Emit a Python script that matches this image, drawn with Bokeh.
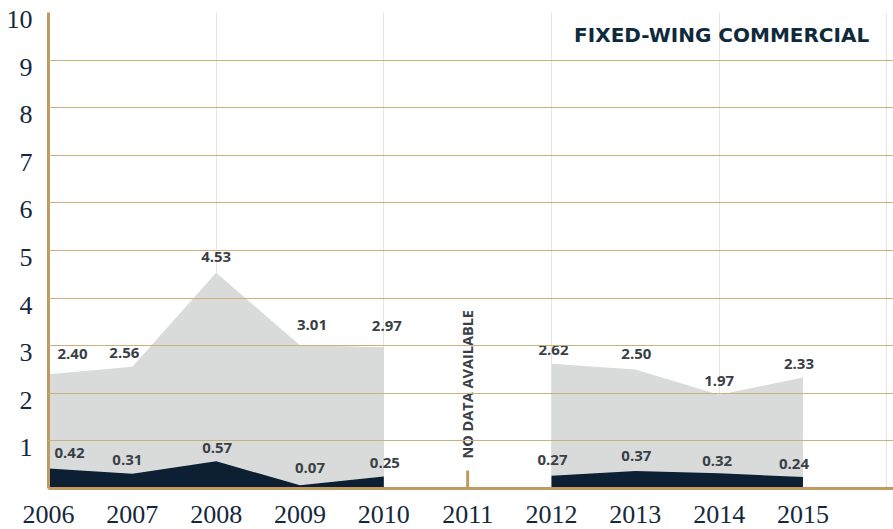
import numpy as np
from bokeh.plotting import figure
from bokeh.models import Range1d, LinearAxis, FixedTicker, Grid, ColumnDataSource, Label
from bokeh.core.properties import value
from bokeh.embed import file_html
from bokeh.resources import INLINE

# ---------------- data ----------------
years = [2006, 2007, 2008, 2009, 2010, 2012, 2013, 2014, 2015]
total_rate = [2.40, 2.56, 4.53, 3.01, 2.97, 2.62, 2.50, 1.97, 2.33]
fatal_rate = [0.42, 0.31, 0.57, 0.07, 0.25, 0.27, 0.37, 0.32, 0.24]
tick_years = [2006, 2007, 2008, 2009, 2010, 2011, 2012, 2013, 2014, 2015]
y_ticks = [1, 2, 3, 4, 5, 6, 7, 8, 9, 10]
no_data_year = [2011]
title_text = "FIXED-WING COMMERCIAL"
no_data_text = "NO DATA AVAILABLE"

# ---------------- label placement (screen px) ----------------
total_dx = [24, -8, 0, 12, 3, 2, 1, 0, -4]
total_dy = [20, 14, 16, 20, 21, 14, 16, 14, 14]
fatal_dx = [21, -5, 1, 10, 1, 1, 1, -2, -9]
fatal_dy = [16, 14, 13, 17, 14, 16, 15, 12, 13]

TAN = "#bf9b61"
GRID = "#cdae7c"
GRAY = "#d8dbda"
NAVY = "#0c1f33"
LABEL = "#3a3f46"
TICK = "#14283c"

p = figure(width=893, height=529,
           x_range=Range1d(2006, 2016.08), y_range=Range1d(0, 10),
           output_backend="svg", toolbar_location=None,
           x_axis_location=None, y_axis_location=None,
           min_border_left=48, min_border_right=0,
           min_border_top=12, min_border_bottom=41,
           outline_line_color=None,
           background_fill_color="white", border_fill_color="white")

# split into continuous segments (gap where data missing)
segments = []
cur = [0]
for i in range(1, len(years)):
    if years[i] - years[i - 1] > 1:
        segments.append(cur)
        cur = [i]
    else:
        cur.append(i)
segments.append(cur)

for seg in segments:
    xs = [years[i] for i in seg]
    p.varea(x=xs, y1=[0] * len(xs), y2=[total_rate[i] for i in seg], fill_color=GRAY)
    p.varea(x=xs, y1=[0] * len(xs), y2=[fatal_rate[i] for i in seg], fill_color=NAVY)

grid = Grid(dimension=1, ticker=FixedTicker(ticks=y_ticks),
            grid_line_color=GRID, grid_line_width=1.2, level="guide")
p.add_layout(grid)

src = ColumnDataSource(dict(
    x=years, total=total_rate, fatal=fatal_rate,
    total_txt=[f"{v:.2f}" for v in total_rate],
    fatal_txt=[f"{v:.2f}" for v in fatal_rate],
    tdx=total_dx, tdy=[-d for d in total_dy],
    fdx=fatal_dx, fdy=[-d for d in fatal_dy],
))
common = dict(text_align="center", text_baseline="middle",
              text_font=value("Open Sans"), text_font_style="bold",
              text_font_size="15px", text_color=LABEL, source=src)
p.text(x="x", y="total", text="total_txt", x_offset="tdx", y_offset="tdy", **common)
p.text(x="x", y="fatal", text="fatal_txt", x_offset="fdx", y_offset="fdy", **common)

# no-data marker
gap_tick_height = 0.38
p.segment(x0=no_data_year, y0=[0], x1=no_data_year, y1=[gap_tick_height],
          line_color=TAN, line_width=3)
p.text(x=no_data_year, y=[0.63], text=[no_data_text], angle=np.pi / 2,
       text_align="left", text_baseline="middle",
       text_font=value("Open Sans"), text_font_style="bold",
       text_font_size="14.5px", text_color=LABEL)

# title
p.add_layout(Label(x=2015.79, y=9.52, text=title_text,
                   text_align="right", text_baseline="middle",
                   text_font="DejaVu Sans", text_font_style="bold",
                   text_font_size="20px", text_color="#0e2a3b"))

# axes
p.extra_y_ranges = {"lab": Range1d(0.147, 10.147)}
yaxis = LinearAxis(y_range_name="lab", ticker=FixedTicker(ticks=y_ticks),
                   axis_line_color=TAN, axis_line_width=3,
                   major_tick_line_color=None, minor_tick_line_color=None,
                   major_label_text_font="Liberation Serif",
                   major_label_text_font_size="26px",
                   major_label_text_color=TICK, major_label_standoff=10)
p.add_layout(yaxis, "left")

xaxis = LinearAxis(ticker=FixedTicker(ticks=tick_years),
                   major_label_overrides={y: str(y) for y in tick_years},
                   axis_line_color=TAN, axis_line_width=3,
                   major_tick_line_color=None, minor_tick_line_color=None,
                   major_label_text_font="Liberation Serif",
                   major_label_text_font_size="26px",
                   major_label_text_color=TICK, major_label_standoff=11)
p.add_layout(xaxis, "below")

open("out.html", "w").write(file_html(p, INLINE))
